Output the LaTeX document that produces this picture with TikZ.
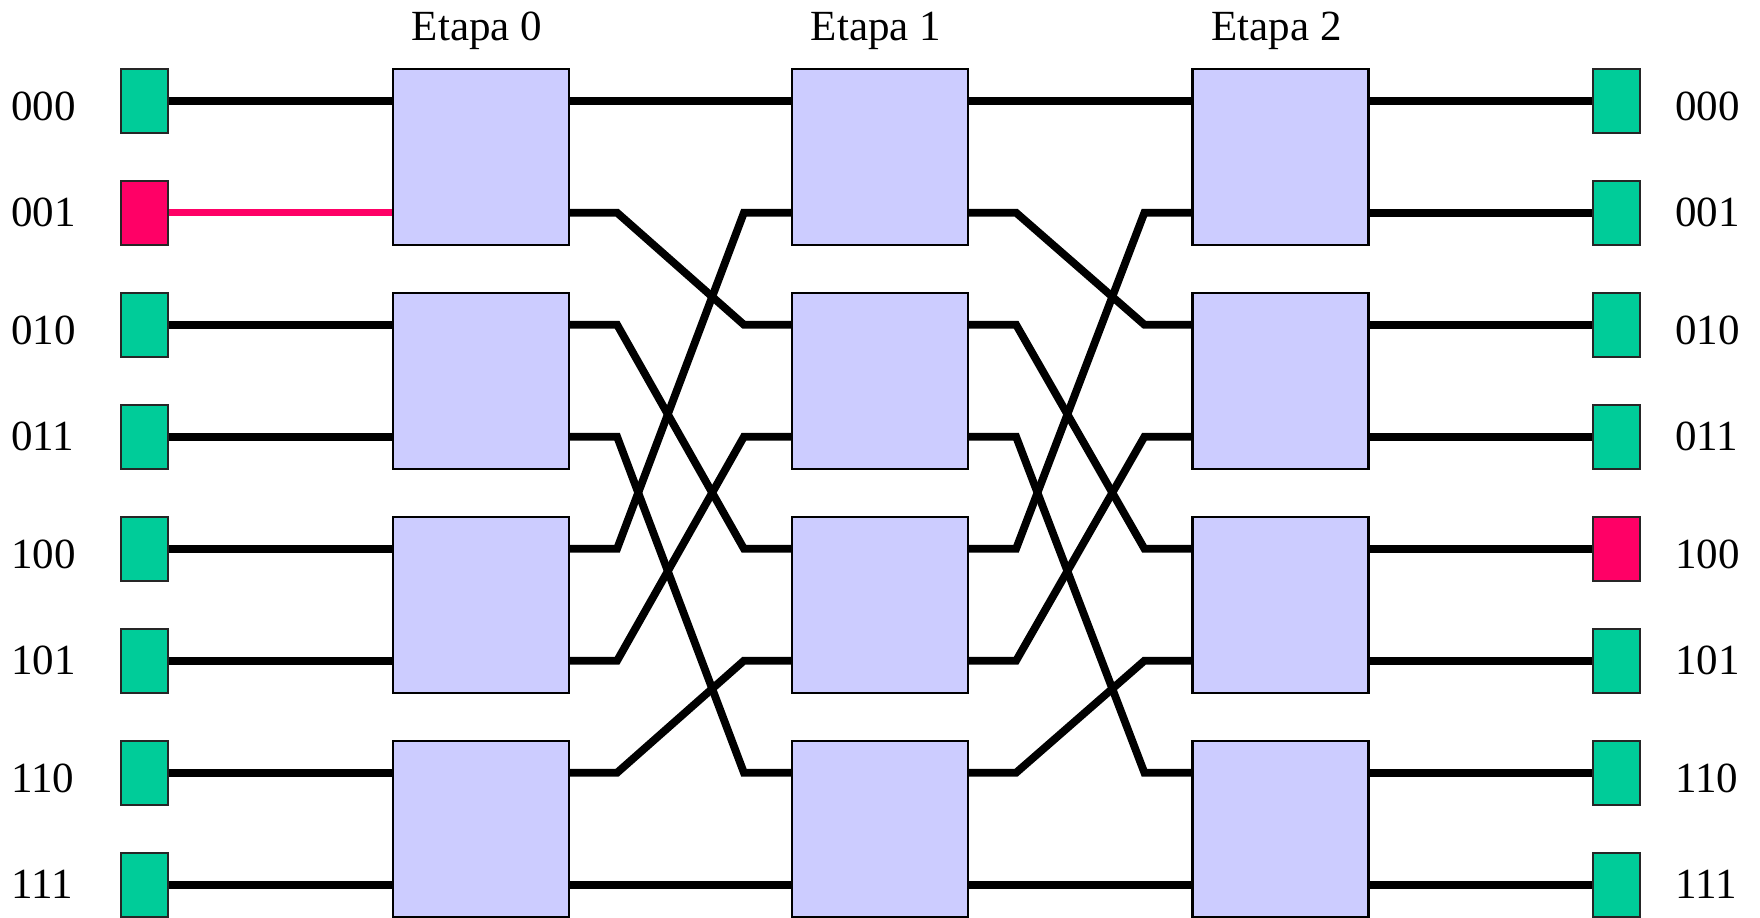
\documentclass[tikz,border=0pt]{standalone}
\usepackage{fontspec}
\setmainfont{Liberation Serif}
\usetikzlibrary{calc,backgrounds}
\definecolor{termgreen}{RGB}{0,204,153}
\definecolor{termred}{RGB}{255,0,102}
\definecolor{boxblue}{RGB}{204,204,255}
\begin{document}
\begin{tikzpicture}[x=0.5pt,y=-0.5pt,
  term/.style={draw=black!85, line width=1.05pt, fill=termgreen, minimum width=23.5pt, minimum height=32pt, inner sep=0pt},
  redterm/.style={term, fill=termred},
  sw/.style={draw=black, line width=1.1pt, fill=boxblue, minimum width=88pt, minimum height=88pt, inner sep=0pt},
  wire/.style={line width=3.9pt, black},
  redwire/.style={line width=3.3pt, termred},
  lab/.style={font=\fontsize{21.5}{24}\selectfont, inner sep=0pt, anchor=base west},
  stagelab/.style={font=\fontsize{21.5}{24}\selectfont, inner sep=0pt, anchor=base}]
\useasboundingbox (0,0) rectangle (1760,917);
% row coordinates
\foreach \i in {0,...,7} \coordinate (r\i) at (0,{100.7+112*\i});
% switch boxes
\foreach \s/\x in {0/481,1/880,2/1280.5}{
  \foreach \k in {0,...,3}{
    \node[sw] (sw\s-\k) at (\x,{156.7+224*\k}) {};
  }
}
% stage labels
\node[stagelab] (st0) at (477,40) {Etapa 0};
\node[stagelab] (st1) at (876,40) {Etapa 1};
\node[stagelab] (st2) at (1276.5,40) {Etapa 2};
% terminals and labels
\foreach \i/\b/\d in {0/000/20,1/001/13.5,2/010/20,3/011/13.5,4/100/20,5/101/13.5,6/110/20,7/111/13.5}{
  \ifnum\i=1
    \node[redterm] (in\i) at (144.5,{100.7+112*\i}) {};
  \else
    \node[term] (in\i) at (144.5,{100.7+112*\i}) {};
  \fi
  \ifnum\i=4
    \node[redterm] (out\i) at (1616.5,{100.7+112*\i}) {};
  \else
    \node[term] (out\i) at (1616.5,{100.7+112*\i}) {};
  \fi
  \node[lab] (lin\i) at (11,{100.7+\d+112*\i}) {\b};
  \node[lab] (lout\i) at (1675,{100.7+\d+112*\i}) {\b};
}
\begin{scope}[on background layer]
  % input / output wires
  \foreach \i in {0,...,7}{
    \pgfmathtruncatemacro\a{\i/2}
    \ifnum\i=1
      \draw[redwire] (in\i.east) -- (sw0-\a.west |- r\i);
    \else
      \draw[wire] (in\i.east) -- (sw0-\a.west |- r\i);
    \fi
    \draw[wire] (sw2-\a.east |- r\i) -- (out\i.west);
  }
  % inter-stage wires (perfect shuffle)
  \foreach \s in {0,1}{
    \pgfmathtruncatemacro\t{\s+1}
    \draw[wire] (sw\s-0.east |- r0) -- (sw\t-0.west |- r0);
    \draw[wire] (sw\s-3.east |- r7) -- (sw\t-3.west |- r7);
    \foreach \i in {1,...,6}{
      \pgfmathtruncatemacro\j{mod(2*\i,7)}
      \pgfmathtruncatemacro\a{\i/2}
      \pgfmathtruncatemacro\b{\j/2}
      \draw[wire] (sw\s-\a.east |- r\i) -- ++(47,0) -- ($(sw\t-\b.west |- r\j)+(-47,0)$) -- (sw\t-\b.west |- r\j);
    }
  }
\end{scope}
\end{tikzpicture}
\end{document}
